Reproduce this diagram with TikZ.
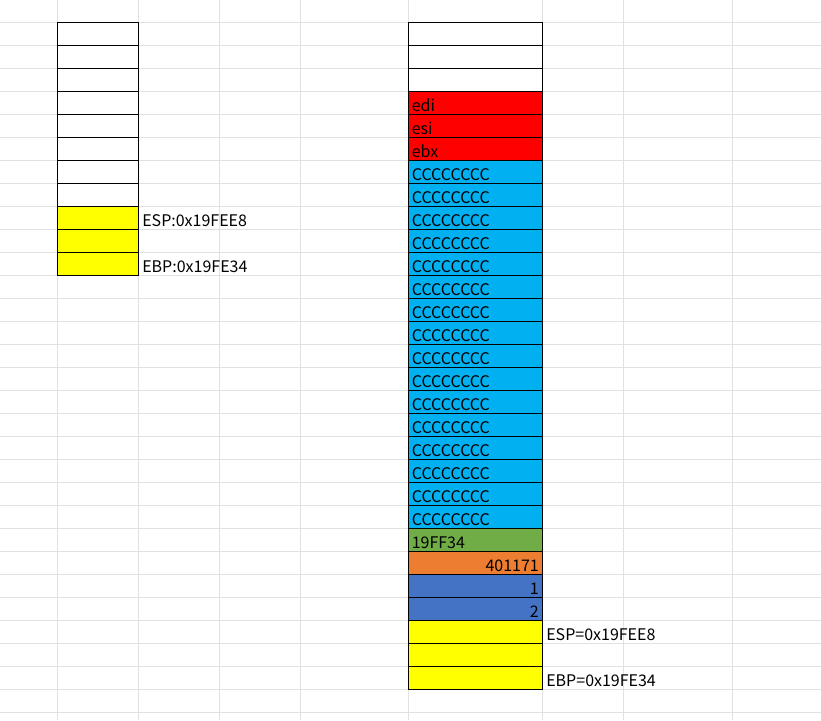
\documentclass[tikz,border=0pt]{standalone}
\usepackage{fontspec}
\setmainfont{Noto Sans CJK SC}
\usetikzlibrary{positioning}

\definecolor{cellred}{HTML}{FF0000}
\definecolor{cellcyan}{HTML}{00B0F0}
\definecolor{cellgreen}{HTML}{70AD47}
\definecolor{cellorange}{HTML}{ED7D31}
\definecolor{cellblue}{HTML}{4472C4}
\definecolor{cellyellow}{HTML}{FFFF00}
\definecolor{gridgray}{HTML}{E1E1E1}

\begin{document}
\begin{tikzpicture}[x=1pt, y=-1pt, node distance=0mm]
      \tikzset{
        slot/.style={
          draw=black, line width=0.9pt, minimum width=134pt, minimum height=23pt,
          inner sep=0pt, outer sep=0pt, text width=127pt, align=left,
          text height=20pt, text depth=3pt, font=\fontsize{16}{16}\selectfont
        },
        narrow/.style={minimum width=81pt, text width=74pt},
        righttext/.style={align=right},
        tag/.style={
          inner sep=0pt, outer sep=0pt, text height=20pt, text depth=3pt,
          font=\fontsize{16}{16}\selectfont
        },
        gridline/.style={draw=gridgray, line width=1pt}
      }
      \useasboundingbox (0,0) rectangle (821,720);
      % sheet grid
      \foreach \gx in {57.3,138.3,219.3,300.3,408.3,542.3,623.3,732.3}
        \draw[gridline] (\gx,0) -- (\gx,720);
      \foreach \k in {0,...,30}
        \draw[gridline] (0,{22.3+23*\k}) -- (821,{22.3+23*\k});
      % stack before the call
      \node[slot, narrow] (l1) at (97.8,33.8) {};
      \foreach \i [remember=\i as \j (initially 1)] in {2,...,8}
        \node[slot, narrow, below=of l\j] (l\i) {};
      \node[slot, narrow, fill=cellyellow, below=of l8] (l9) {};
      \node[slot, narrow, fill=cellyellow, below=of l9] (l10) {};
      \node[slot, narrow, fill=cellyellow, below=of l10] (l11) {};
      \node[tag, right=4pt of l9] (espold) {ESP:0x19FEE8};
      \node[tag, right=4pt of l11] (ebpold) {EBP:0x19FE34};
      % stack inside the function
      \node[slot] (s1) at (475.3,33.8) {};
      \node[slot, below=of s1] (s2) {};
      \node[slot, below=of s2] (s3) {};
      \node[slot, fill=cellred, below=of s3] (edi) {edi};
      \node[slot, fill=cellred, below=of edi] (esi) {esi};
      \node[slot, fill=cellred, below=of esi, alias=c0] (ebx) {ebx};
      \foreach \i [remember=\i as \j (initially 0)] in {1,...,16}
        \node[slot, fill=cellcyan, below=of c\j] (c\i) {CCCCCCCC};
      \node[slot, fill=cellgreen, below=of c16] (oldebp) {19FF34};
      \node[slot, fill=cellorange, righttext, below=of oldebp] (ret) {401171};
      \node[slot, fill=cellblue, righttext, below=of ret] (arg1) {1};
      \node[slot, fill=cellblue, righttext, below=of arg1] (arg2) {2};
      \node[slot, fill=cellyellow, below=of arg2] (y1) {};
      \node[slot, fill=cellyellow, below=of y1] (y2) {};
      \node[slot, fill=cellyellow, below=of y2] (y3) {};
      \node[tag, right=4pt of y1] (espnew) {ESP=0x19FEE8};
      \node[tag, right=4pt of y3] (ebpnew) {EBP=0x19FE34};
    \end{tikzpicture}
\end{document}
